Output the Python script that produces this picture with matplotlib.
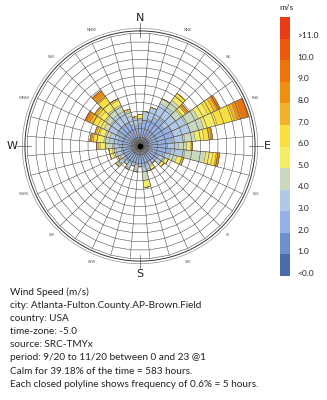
import numpy as np
import matplotlib.pyplot as plt

plt.rcParams['font.family'] = ['Lato', 'DejaVu Sans']

# wind directions (deg, clockwise from north), one bar per 10 deg
directions = np.arange(0, 360, 10)

# hours per direction in each speed band (band index = legend row)
band1_hours = [4, 4, 4, 5, 5, 4, 5, 5, 5, 4, 5, 4, 3, 3, 3, 3, 3, 3,
               3, 3, 3, 3, 3, 3, 3, 3, 3, 3, 3, 3, 4, 4, 4, 4, 4, 4]
band2_hours = [9, 11, 12, 13, 14, 13, 15, 15, 14, 12, 13, 10, 9, 9, 7, 7, 8, 9,
               7, 8, 7, 8, 8, 9, 7, 8, 8, 9, 10, 10, 10, 11, 11, 11, 9, 8]
band3_hours = [3, 5, 7, 9, 8, 8, 9, 10, 7, 6, 8, 4, 4, 3, 2, 2, 3, 3,
               2, 3, 2, 3, 2, 3, 3, 3, 3, 4, 5, 5, 6, 6, 7, 7, 5, 4]
band4_hours = [0, 0, 0, 3, 5, 4, 8, 8, 6, 5, 12, 4, 0, 0, 0, 1, 1, 5,
               0, 1, 0, 1, 0, 1, 0, 2, 2, 4, 3, 3, 3, 3, 4, 4, 3, 1]
band5_hours = [2, 0, 0, 0, 3, 3, 6, 8, 5, 2, 4, 3, 2, 2, 0, 2, 0, 4,
               0, 0, 0, 0, 0, 1, 1, 2, 2, 3, 4, 3, 4, 4, 4, 3, 1, 0]
band6_hours = [0, 0, 0, 0, 2, 0, 4, 10, 3, 1, 2, 1, 0, 0, 0, 0, 0, 0,
               0, 0, 0, 0, 0, 0, 0, 0, 0, 1, 2, 2, 3, 3, 4, 1, 0, 0]
band7_hours = [0, 0, 0, 0, 0, 1, 2, 2, 1, 0, 1, 0, 0, 0, 0, 0, 0, 0,
               0, 0, 0, 0, 0, 0, 0, 0, 0, 1, 1, 1, 2, 1, 2, 0, 0, 0]
band8_hours = [0, 0, 0, 0, 0, 1, 1, 3, 1, 0, 1, 0, 0, 0, 0, 0, 0, 0,
               0, 0, 0, 0, 0, 0, 0, 0, 0, 0, 1, 0, 2, 0, 2, 0, 0, 0]
band9_hours = [0, 0, 0, 0, 0, 0, 1, 3, 0, 0, 0, 0, 0, 0, 0, 0, 0, 0,
               0, 0, 0, 0, 0, 0, 0, 0, 0, 0, 0, 0, 1, 0, 1, 0, 0, 0]
band10_hours = [0, 0, 0, 0, 0, 0, 0, 1, 0, 0, 0, 0, 0, 0, 0, 0, 0, 0,
                0, 0, 0, 0, 0, 0, 0, 0, 0, 0, 0, 0, 0, 0, 0, 0, 0, 0]
stacks = [band1_hours, band2_hours, band3_hours, band4_hours, band5_hours,
          band6_hours, band7_hours, band8_hours, band9_hours, band10_hours]

legend_labels = ['<0.0', '1.0', '2.0', '3.0', '4.0', '5.0', '6.0',
                 '7.0', '8.0', '9.0', '10.0', '>11.0']
legend_colors = ['#4b6bad', '#6f8fcb', '#93b1e6', '#b0c9e6', '#c9d8be', '#f4ec66',
                 '#f9df40', '#f2b02c', '#ef8f12', '#ec740a', '#ea5a08', '#e83c14']

ring_hours = 5
n_rings = 13
r_max = ring_hours * n_rings

info_lines = [
    "Wind Speed (m/s)",
    "city: Atlanta-Fulton.County.AP-Brown.Field",
    "country: USA",
    "time-zone: -5.0",
    "source: SRC-TMYx",
    "period: 9/20 to 11/20 between 0 and 23 @1",
    "Calm for 39.18% of the time = 583 hours.",
    "Each closed polyline shows frequency of 0.6% = 5 hours.",
]

W, H = 327, 400
fig = plt.figure(figsize=(W / 100, H / 100), dpi=100)

# polar axes: centre at (140,146) px, ring 13 at 113 px
cx, cy = 140, 146
px_per_hour = 113 / r_max
r_lim = 68
rad_px = r_lim * px_per_hour
ax = fig.add_axes([(cx - rad_px) / W, (H - cy - rad_px) / H, 2 * rad_px / W, 2 * rad_px / H],
                  projection='polar')
ax.set_theta_zero_location('N')
ax.set_theta_direction(-1)
ax.set_ylim(0, r_lim)
ax.grid(False)
ax.set_xticks([])
ax.set_yticks([])
ax.spines['polar'].set_visible(False)

theta = np.radians(directions)
width = np.radians(10)
bottom = np.zeros(len(directions))
for i, hrs in enumerate(stacks):
    hrs = np.array(hrs, dtype=float)
    ax.bar(theta, hrs, width=width, bottom=bottom, color=legend_colors[i + 1],
           edgecolor='#8a6a3a', linewidth=0.25, zorder=2)
    bottom += hrs

# frequency polylines and radial divisions
edges = np.radians(np.arange(5, 366, 10))
grid_c = '#505050'
for k in range(1, n_rings + 1):
    ax.plot(edges, np.full(len(edges), k * ring_hours), color=grid_c, lw=0.4, zorder=3)
for e in edges[:-1]:
    ax.plot([e, e], [0, r_max], color=grid_c, lw=0.4, zorder=3)

# outer compass circles
circ = np.linspace(0, 2 * np.pi, 400)
ax.plot(circ, np.full_like(circ, 66.2), color='#333333', lw=0.7, zorder=3, clip_on=False)
ax.plot(circ, np.full_like(circ, 67.7), color='#888888', lw=0.45, zorder=3, clip_on=False)
ax.scatter([0], [0], s=9, color='black', zorder=5)

# compass labels
main_dirs = {'N': 0, 'E': 90, 'S': 180, 'W': 270}
for name, deg in main_dirs.items():
    t = np.radians(deg)
    ax.plot([t, t], [62.5, 70.5], color='#555555', lw=0.5, clip_on=False, zorder=4)
    ax.text(t, 73.5, name, fontsize=8, ha='center', va='center', color='#222222',
            family=['DejaVu Sans'], clip_on=False)
minor_dirs = ['NNE', 'NE', 'ENE', 'ESE', 'SE', 'SSE', 'SSW', 'SW', 'WSW', 'WNW', 'NW', 'NNW']
minor_deg = [22.5, 45, 67.5, 112.5, 135, 157.5, 202.5, 225, 247.5, 292.5, 315, 337.5]
for name, deg in zip(minor_dirs, minor_deg):
    ax.text(np.radians(deg), 72, name, fontsize=2.8, ha='center', va='center',
            color='#555555', clip_on=False)

# speed legend
lx0, lx1, ly0, ly1 = 280, 290, 17, 276
lax = fig.add_axes([lx0 / W, (H - ly1) / H, (lx1 - lx0) / W, (ly1 - ly0) / H])
n_band = len(legend_colors)
lax.bar(np.zeros(n_band), np.ones(n_band), bottom=np.arange(n_band), width=1,
        color=legend_colors, edgecolor='none')
lax.set_xlim(-0.5, 0.5)
lax.set_ylim(0, n_band)
lax.axis('off')
for i, lab in enumerate(legend_labels):
    lax.text(1.25, i + 0.13, lab, fontsize=6.0, va='center', ha='left',
             color='#222222', transform=lax.transData, clip_on=False)
fig.text(287 / W, 1 - 8 / H, 'm/s', fontsize=6.0, ha='center', va='center', color='#222222')

# station info block
for j, line in enumerate(info_lines):
    fig.text(10 / W, 1 - (292 + 13.2 * j) / H, line, fontsize=7.2, ha='left',
             va='center', color='#222222')

fig.savefig('out.png', dpi=100, facecolor='white')
